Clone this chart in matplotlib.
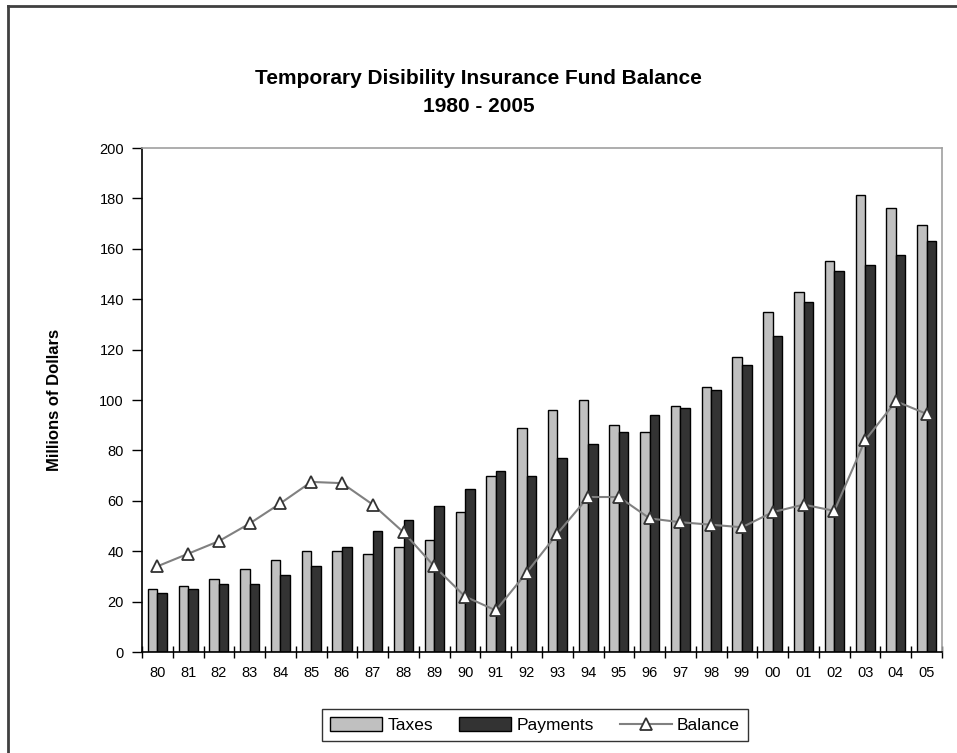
#! /usr/bin/env python3
# Temporary Disability Insurance fund: taxes, payments and balance, 1980-2005

import numpy as np
import matplotlib
matplotlib.use("Agg")
import matplotlib.pyplot as plt
from matplotlib.lines import Line2D

plt.rcParams['font.family'] = ['Liberation Sans', 'DejaVu Sans']

years = ['80', '81', '82', '83', '84', '85', '86', '87', '88', '89',
         '90', '91', '92', '93', '94', '95', '96', '97', '98', '99',
         '00', '01', '02', '03', '04', '05']
taxes = [25, 26, 29, 33, 36.5, 40, 40, 39, 41.5, 44.5,
         55.5, 70, 89, 96, 100, 90, 87.5, 97.5, 105, 117,
         135, 143, 155, 181.5, 176, 169.5]
payments = [23.5, 25, 27, 27, 30.5, 34, 41.5, 48, 52.5, 58,
            64.5, 72, 70, 77, 82.5, 87.5, 94, 97, 104, 114,
            125.5, 139, 151, 153.5, 157.5, 163]
balance = [34, 39, 44, 51, 59, 67.5, 67, 58.5, 47.5, 34,
           22, 16.5, 31.5, 47, 61.5, 61.5, 53, 51.5, 50.5, 49.5,
           55.5, 58.5, 56, 84, 99.5, 94.5]

fig = plt.figure(figsize=(9.57, 7.53), dpi=100)
ax = fig.add_axes([142/957, 101/753, 800/957, 504/753])

x = np.arange(len(years))
w = 0.31
b1 = ax.bar(x - w/2, taxes, w, color='#c0c0c0', edgecolor='black', linewidth=1.0, label='Taxes', zorder=2)
b2 = ax.bar(x + w/2, payments, w, color='#333333', edgecolor='black', linewidth=1.0, label='Payments', zorder=2)
l1, = ax.plot(x, balance, color='#808080', linewidth=1.5, marker='^', markersize=9,
              markerfacecolor='white', markeredgecolor='#333333', markeredgewidth=1.3,
              label='Balance', zorder=3)

ax.set_xlim(-0.5, len(years) - 0.5)
ax.set_ylim(0, 200)
ax.set_yticks(range(0, 201, 20))
ax.tick_params(axis='y', direction='out', length=7, width=1, labelsize=10.5, pad=6)

# tick marks between groups, labels at group centres
ax.set_xticks(np.arange(-0.5, len(years), 1.0))
ax.set_xticklabels([])
ax.set_xticks(x, minor=True)
ax.set_xticklabels(years, minor=True)
ax.tick_params(axis='x', which='major', direction='inout', length=8, width=1)
ax.tick_params(axis='x', which='minor', length=0, labelsize=10.5, pad=10)

for s in ['top', 'right']:
    ax.spines[s].set_color('#a0a0a0')
    ax.spines[s].set_linewidth(1.2)
for s in ['left', 'bottom']:
    ax.spines[s].set_color('black')
    ax.spines[s].set_linewidth(1.2)

ax.set_ylabel('Millions of Dollars', fontsize=12, fontweight='bold')
ax.yaxis.set_label_coords(-0.1, 0.5)

fig.text(0.5, 1 - 79/753, 'Temporary Disibility Insurance Fund Balance',
         ha='center', va='center', fontsize=15, fontweight='bold')
fig.text(0.5, 1 - 106/753, '1980 - 2005',
         ha='center', va='center', fontsize=15, fontweight='bold')

leg = fig.legend([b1, b2, l1], ['Taxes', 'Payments', 'Balance'],
                 loc='center', bbox_to_anchor=(535/957, 1 - 725/753), ncol=3,
                 fontsize=12.5, frameon=True, fancybox=False, edgecolor='black',
                 handlelength=3.0, handleheight=0.9, handletextpad=0.3,
                 columnspacing=1.5, borderpad=0.45)
leg.get_frame().set_linewidth(1.0)

# outer frame (left and top edges visible in the original)
fig.add_artist(Line2D([8/957, 8/957], [0, 1 - 6/753], transform=fig.transFigure,
                      color='#404040', linewidth=2))
fig.add_artist(Line2D([8/957, 1], [1 - 6/753, 1 - 6/753], transform=fig.transFigure,
                      color='#404040', linewidth=2))

fig.savefig('out.png', dpi=100)
